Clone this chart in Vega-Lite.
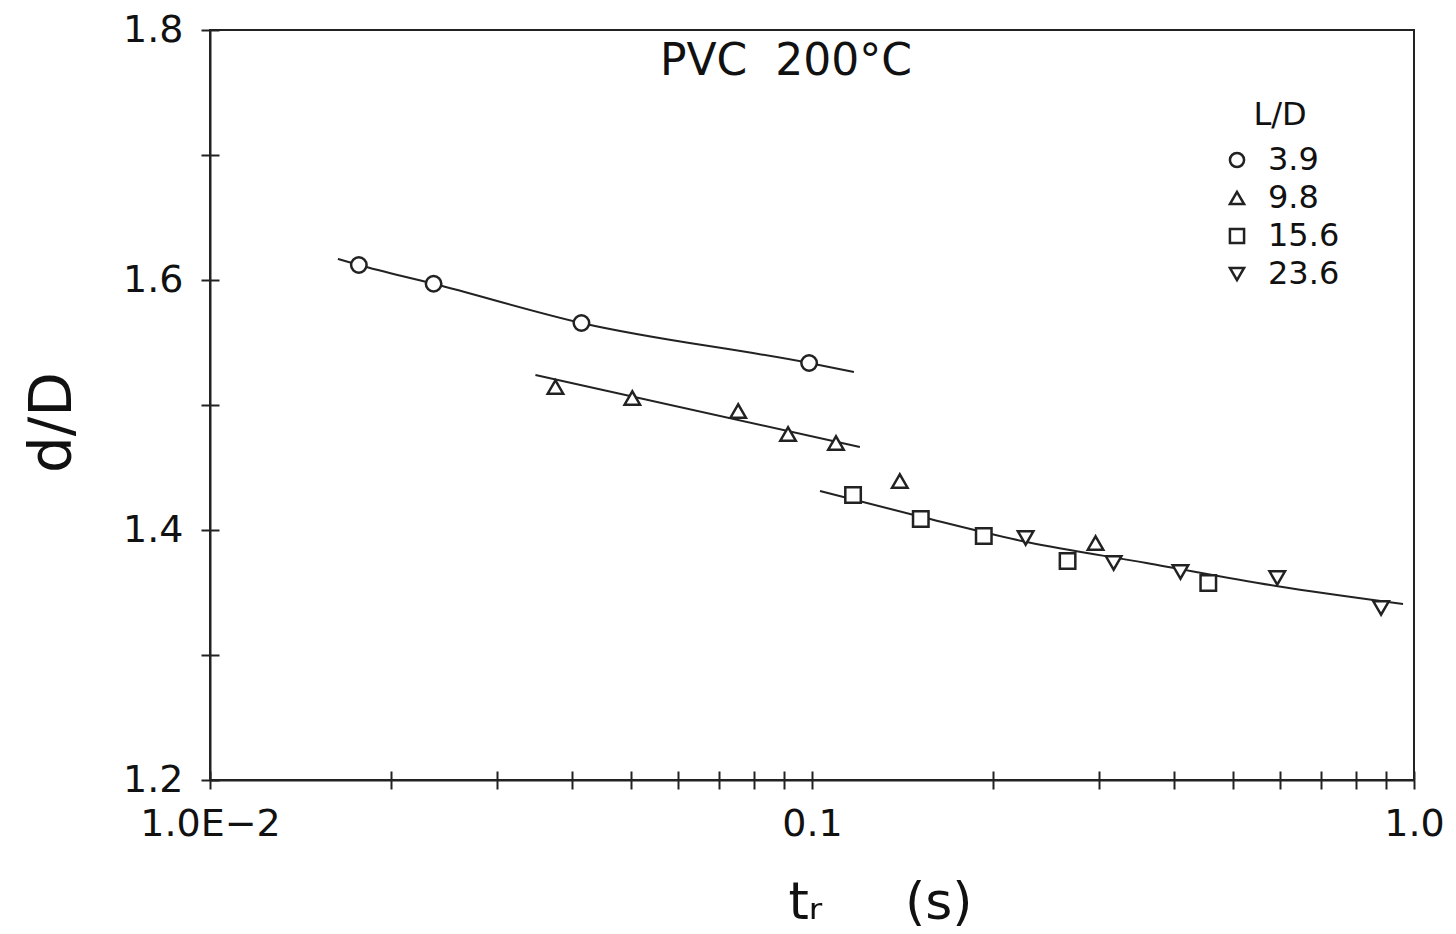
{
  "$schema": "https://vega.github.io/schema/vega-lite/v6.json",
  "width": 1204,
  "height": 750,
  "autosize": "none",
  "padding": {"left": 210, "top": 30, "right": 42, "bottom": 154},
  "background": "white",
  "config": {
    "font": "DejaVu Sans",
    "view": {"stroke": "#222", "strokeWidth": 2},
    "axis": {"grid": false, "domainColor": "#222", "domainWidth": 2, "tickColor": "#222", "tickWidth": 2, "labelColor": "#111", "titleColor": "#111", "labelFont": "DejaVu Sans", "titleFont": "DejaVu Sans", "titleFontWeight": "normal"},
    "legend": {"symbolBaseStrokeColor": "#222", "symbolBaseFillColor": "white"}
  },
  "datasets": {
    "points": [
      {"LD": "3.9", "tr": 0.01767, "dD": 1.612},
      {"LD": "3.9", "tr": 0.02352, "dD": 1.597},
      {"LD": "3.9", "tr": 0.0414, "dD": 1.5656},
      {"LD": "3.9", "tr": 0.0989, "dD": 1.5336},
      {"LD": "9.8", "tr": 0.03748, "dD": 1.5144},
      {"LD": "9.8", "tr": 0.05029, "dD": 1.5056},
      {"LD": "9.8", "tr": 0.0754, "dD": 1.4952},
      {"LD": "9.8", "tr": 0.09125, "dD": 1.4768},
      {"LD": "9.8", "tr": 0.1096, "dD": 1.4696},
      {"LD": "9.8", "tr": 0.1399, "dD": 1.4392},
      {"LD": "9.8", "tr": 0.2958, "dD": 1.3896},
      {"LD": "15.6", "tr": 0.117, "dD": 1.428},
      {"LD": "15.6", "tr": 0.1516, "dD": 1.4088},
      {"LD": "15.6", "tr": 0.1929, "dD": 1.3952},
      {"LD": "15.6", "tr": 0.2658, "dD": 1.3752},
      {"LD": "15.6", "tr": 0.4553, "dD": 1.3576},
      {"LD": "23.6", "tr": 0.2264, "dD": 1.3936},
      {"LD": "23.6", "tr": 0.317, "dD": 1.3736},
      {"LD": "23.6", "tr": 0.4093, "dD": 1.3664},
      {"LD": "23.6", "tr": 0.5927, "dD": 1.3616},
      {"LD": "23.6", "tr": 0.8816, "dD": 1.3376}
    ],
    "fits": [
      {"fit": "a", "tr": 0.01631, "dD": 1.6168},
      {"fit": "a", "tr": 0.01767, "dD": 1.612},
      {"fit": "a", "tr": 0.02352, "dD": 1.597},
      {"fit": "a", "tr": 0.0414, "dD": 1.5656},
      {"fit": "a", "tr": 0.0989, "dD": 1.5336},
      {"fit": "a", "tr": 0.1174, "dD": 1.5264},
      {"fit": "b", "tr": 0.03472, "dD": 1.524},
      {"fit": "b", "tr": 0.1201, "dD": 1.4664},
      {"fit": "c", "tr": 0.1031, "dD": 1.4312},
      {"fit": "c", "tr": 0.1522, "dD": 1.4104},
      {"fit": "c", "tr": 0.2274, "dD": 1.3904},
      {"fit": "c", "tr": 0.3594, "dD": 1.3736},
      {"fit": "c", "tr": 0.5903, "dD": 1.3552},
      {"fit": "c", "tr": 0.9589, "dD": 1.3408}
    ],
    "heading": [
      {"label": "PVC\u00a0\u00a0200°C", "tr": 0.0905, "dD": 1.7744}
    ]
  },
  "layer": [
    {
      "data": {"name": "fits"},
      "mark": {"type": "line", "color": "#222", "strokeWidth": 2, "interpolate": "monotone"},
      "encoding": {
        "x": {"field": "tr", "type": "quantitative",
          "scale": {"type": "log", "domain": [0.01, 1], "nice": false},
          "axis": {"orient": "bottom", "values": [0.01,0.02,0.03,0.04,0.05,0.06,0.07,0.08,0.09,0.1,0.2,0.3,0.4,0.5,0.6,0.7,0.8,0.9,1],
            "labelExpr": "datum.value == 0.01 ? '1.0E−2' : datum.value == 0.1 ? '0.1' : datum.value == 1 ? '1.0' : ''",
            "labelFontSize": 38, "labelPadding": 16, "tickSize": 9, "labelFlush": false, "labelOverlap": false,
            "title": "tᵣ\u00a0\u00a0\u00a0\u00a0\u00a0(s)", "titleFontSize": 52, "titlePadding": 34, "titleX": 670}},
        "y": {"field": "dD", "type": "quantitative",
          "scale": {"domain": [1.2, 1.8], "nice": false, "zero": false},
          "axis": {"orient": "left", "values": [1.2,1.3,1.4,1.5,1.6,1.7,1.8], "format": ".1f",
            "labelExpr": "indexof(['1.2','1.4','1.6','1.8'], datum.label) >= 0 ? datum.label : ''",
            "labelFontSize": 38, "labelPadding": 18, "tickSize": 9, "labelFlush": false, "labelOverlap": false,
            "title": "d/D", "titleFontSize": 58, "titlePadding": 40, "titleY": 392}},
        "detail": {"field": "fit"}
      }
    },
    {
      "data": {"name": "points"},
      "mark": {"type": "point", "filled": false, "fill": "white", "strokeWidth": 2.5, "size": 240, "opacity": 1},
      "encoding": {
        "x": {"field": "tr", "type": "quantitative",
          "scale": {"type": "log", "domain": [0.01, 1], "nice": false},
          "axis": {"orient": "bottom", "values": [0.01,0.02,0.03,0.04,0.05,0.06,0.07,0.08,0.09,0.1,0.2,0.3,0.4,0.5,0.6,0.7,0.8,0.9,1],
            "labels": false, "domain": false, "tickSize": -9, "title": null}},
        "y": {"field": "dD", "type": "quantitative",
          "scale": {"domain": [1.2, 1.8], "nice": false, "zero": false},
          "axis": {"orient": "left", "values": [1.2,1.3,1.4,1.5,1.6,1.7,1.8],
            "labels": false, "domain": false, "tickSize": -9, "title": null}},
        "color": {"value": "#222"},
        "shape": {"field": "LD", "type": "nominal",
          "scale": {"domain": ["3.9", "9.8", "15.6", "23.6"], "range": ["circle", "triangle-up", "square", "triangle-down"]},
          "legend": {"title": "L/D", "orient": "none", "legendX": 1011, "legendY": 70, "padding": 0,
            "titleFontSize": 32, "titleFontWeight": "normal", "titleColor": "#111", "titleAnchor": "middle", "titlePadding": 12,
            "labelFontSize": 32, "labelColor": "#111", "labelOffset": 15, "rowPadding": 6,
            "symbolSize": 200, "symbolStrokeWidth": 2.5, "symbolOpacity": 1}}
      }
    },
    {
      "data": {"name": "heading"},
      "mark": {"type": "text", "fontSize": 44, "font": "DejaVu Sans", "color": "#111", "align": "center", "baseline": "middle"},
      "encoding": {
        "x": {"field": "tr", "type": "quantitative", "axis": null},
        "y": {"field": "dD", "type": "quantitative", "axis": null},
        "text": {"field": "label"}
      }
    }
  ],
  "resolve": {"axis": {"x": "independent", "y": "independent"}}
}
